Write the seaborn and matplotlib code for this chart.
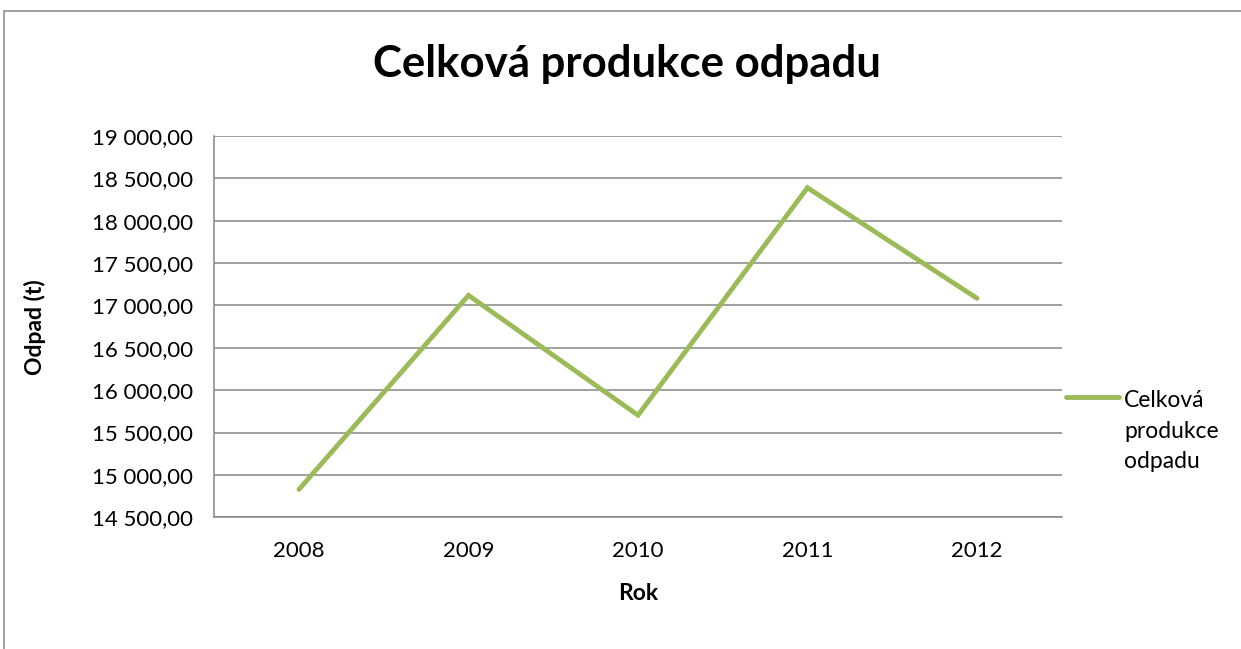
import matplotlib.pyplot as plt
import matplotlib.ticker as mticker
import pandas as pd
import seaborn as sns
from matplotlib.patches import Rectangle

# Data
years = ['2008', '2009', '2010', '2011', '2012']
odpad = [14830, 17120, 15705, 18390, 17085]
series_name = 'Celková produkce odpadu'

df = pd.DataFrame({'Rok': years, 'Odpad': odpad})

sns.set_style('white')
plt.rcParams['font.family'] = ['Lato', 'DejaVu Sans']
plt.rcParams['text.color'] = 'black'
plt.rcParams['axes.labelcolor'] = 'black'
plt.rcParams['xtick.labelcolor'] = 'black'
plt.rcParams['ytick.labelcolor'] = 'black'

grey = '#868686'
green = '#9BBB59'

fig = plt.figure(figsize=(12.41, 6.49), dpi=100)
ax = fig.add_axes([0.1727, 0.2029, 0.6828, 0.5875])

sns.lineplot(data=df, x='Rok', y='Odpad', ax=ax, color=green, linewidth=3.5,
             solid_capstyle='round', solid_joinstyle='miter', legend=False)

ax.set_xlim(-0.5, len(years) - 0.5)
ax.set_ylim(14500, 19000)
ax.yaxis.set_major_locator(mticker.MultipleLocator(500))


def czech_fmt(v, pos):
    s = f'{v:,.2f}'
    return s.replace(',', ' ').replace('.', ',')


ax.yaxis.set_major_formatter(mticker.FuncFormatter(czech_fmt))
ax.grid(axis='y', color=grey, linewidth=1.1)
ax.set_axisbelow(True)

# x ticks: labels at categories, tick marks between categories
ax.set_xticks(range(len(years)))
ax.set_xticklabels(years)
ax.set_xticks([i - 0.5 for i in range(len(years) + 1)], minor=True)
ax.tick_params(axis='x', which='major', length=0, pad=17, labelsize=16)
ax.tick_params(axis='x', which='minor', length=8, color=grey, width=1.1)
ax.tick_params(axis='y', which='major', length=8, color=grey, width=1.1,
               labelsize=16, pad=7)

for side in ['top', 'right']:
    ax.spines[side].set_visible(False)
for side in ['left', 'bottom']:
    ax.spines[side].set_color(grey)
    ax.spines[side].set_linewidth(1.1)

ax.set_xlabel('Rok', fontsize=16.5, fontweight='bold')
ax.set_ylabel('Odpad (t)', fontsize=16.5, fontweight='bold')
ax.xaxis.set_label_coords(0.5, -0.172)
ax.yaxis.set_label_coords(-0.199, 0.5)

fig.text(0.5055, 0.902, series_name, ha='center', va='center',
         fontsize=31.5, fontweight='bold')

# legend drawn like Excel's side legend
fig.lines.append(plt.Line2D([1066 / 1241, 1119 / 1241], [1 - 397 / 649, 1 - 397 / 649],
                            transform=fig.transFigure, color=green, linewidth=3.5,
                            solid_capstyle='round'))
fig.text(1124 / 1241, 1 - 431 / 649, 'Celková\nprodukce\nodpadu', ha='left',
         va='center', fontsize=16.5, linespacing=1.58)

# chart border
fig.patches.append(Rectangle((3.5 / 1241, -0.1), 1.2, 1 - 11 / 649 + 0.1,
                             transform=fig.transFigure, fill=False,
                             edgecolor=grey, linewidth=1.1))

fig.savefig('out.png', dpi=100)
